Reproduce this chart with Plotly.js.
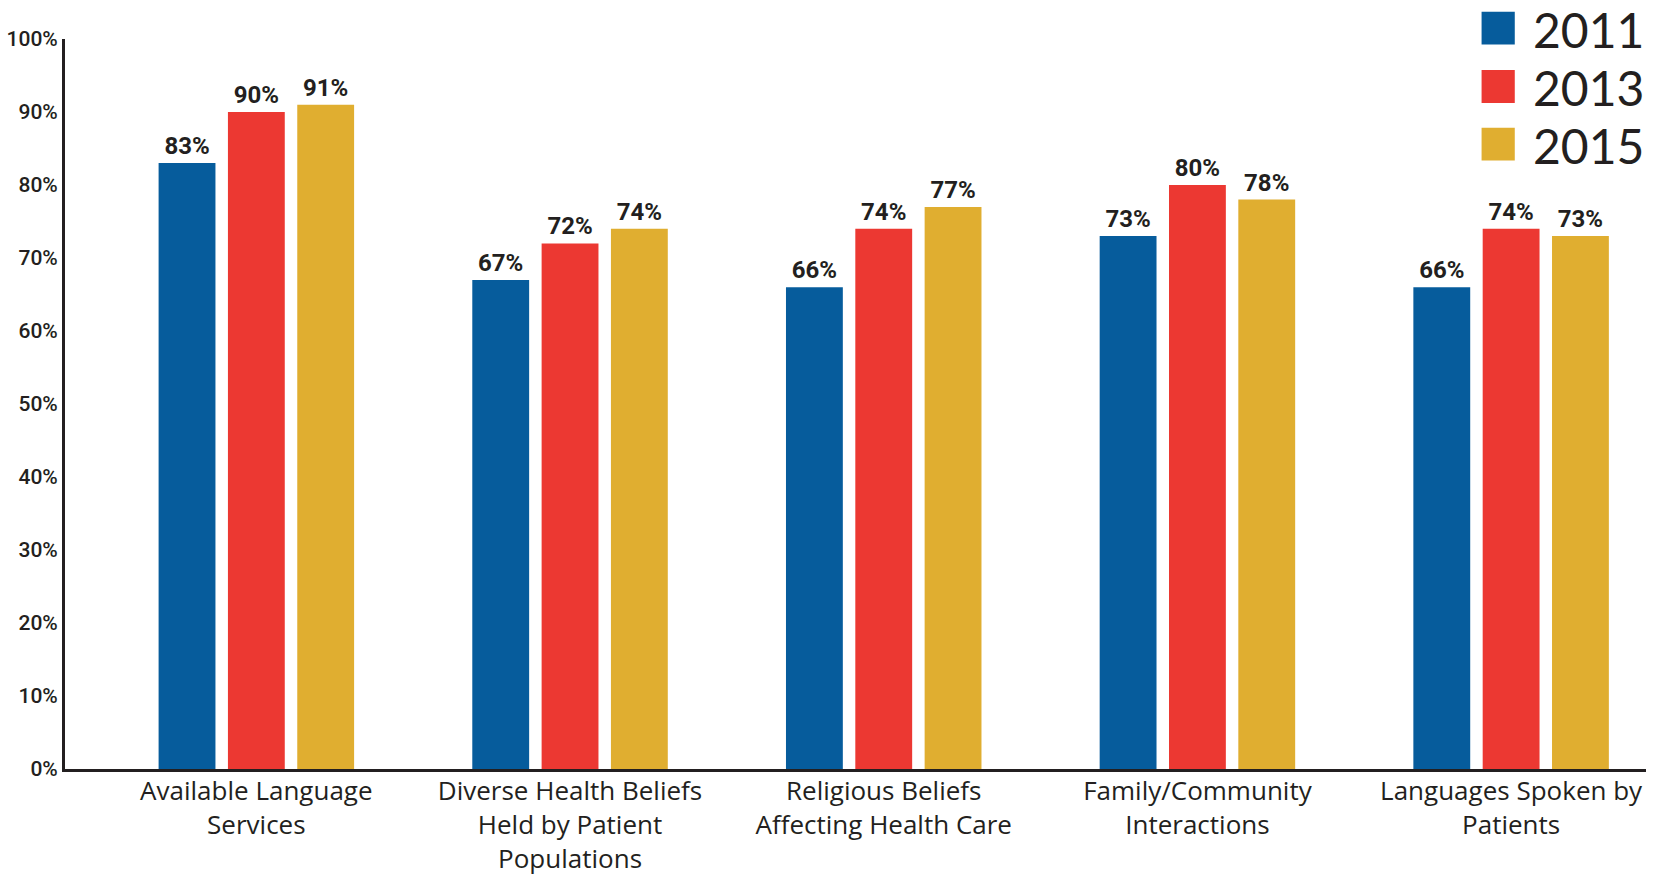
<!DOCTYPE html>
<html>
<head>
<meta charset="utf-8">
<script src="https://cdn.plot.ly/plotly-3.0.1.min.js"></script>
<style>
  html, body { margin: 0; padding: 0; background: #ffffff; }
  #chart { width: 1671px; height: 880px; }
</style>
</head>
<body>
<div id="chart"></div>
<script>
// ---- data ----
const categories = [
  "Available Language Services",
  "Diverse Health Beliefs Held by Patient Populations",
  "Religious Beliefs Affecting Health Care",
  "Family/Community Interactions",
  "Languages Spoken by Patients"
];
const categoryLabels = [
  "Available Language<br>Services",
  "Diverse Health Beliefs<br>Held by Patient<br>Populations",
  "Religious Beliefs<br>Affecting Health Care",
  "Family/Community<br>Interactions",
  "Languages Spoken by<br>Patients"
];
const seriesNames = ["2011", "2013", "2015"];
const values2011 = [83, 67, 66, 73, 66];
const values2013 = [90, 72, 74, 80, 74];
const values2015 = [91, 74, 77, 78, 73];
const seriesColors = ["#065C9C", "#EC3832", "#E0AE30"];

// ---- chart ----
const seriesValues = [values2011, values2013, values2015];
const catIdx = categories.map((_, i) => i);
const narrow = "Roboto, Liberation Sans, sans-serif";
const textColor = "#231F20";

const traces = seriesValues.map((vals, k) => ({
  type: "bar",
  name: seriesNames[k],
  x: catIdx,
  y: vals,
  marker: { color: seriesColors[k], line: { width: 0 } },
  text: vals.map(v => v + "%"),
  textposition: "outside",
  textfont: { family: narrow, size: 24, color: textColor, weight: "bold" },
  constraintext: "none",
  cliponaxis: false,
  hoverinfo: "x+y",
  showlegend: false
}));

// manual legend (large squares + labels)
const legendRowsY = [1.015, 0.935, 0.856];
const shapes = [];
const annotations = [];
seriesNames.forEach((name, k) => {
  const cy = legendRowsY[k];
  shapes.push({
    type: "rect", xref: "paper", yref: "paper",
    x0: 0.896, x1: 0.917, y0: cy - 0.0225, y1: cy + 0.0225,
    fillcolor: seriesColors[k], line: { width: 0 }
  });
  annotations.push({
    xref: "paper", yref: "paper", x: 0.927, y: cy - 0.002,
    xanchor: "left", yanchor: "middle", showarrow: false,
    text: name,
    font: { family: "Lato, Noto Sans, sans-serif", size: 48, color: textColor }
  });
});

const layout = {
  width: 1671, height: 880,
  margin: { l: 65, r: 25, t: 39, b: 111 },
  paper_bgcolor: "#ffffff",
  plot_bgcolor: "#ffffff",
  barmode: "group",
  bargap: 0.337,
  bargroupgap: 0.18,
  showlegend: false,
  xaxis: {
    range: [-0.61, 4.43],
    tickvals: catIdx,
    ticktext: categoryLabels,
    tickfont: { family: "Open Sans, Lato, sans-serif", size: 26, color: textColor },
    showgrid: false, zeroline: false,
    showline: true, linecolor: textColor, linewidth: 3,
    ticks: "", ticklabelstandoff: -3,
    fixedrange: true
  },
  yaxis: {
    range: [0, 100],
    dtick: 10, tick0: 0,
    ticksuffix: "%",
    tickfont: { family: narrow, size: 21, color: textColor, weight: 500 },
    showgrid: false, zeroline: false,
    showline: true, linecolor: textColor, linewidth: 3,
    ticks: "", ticklabelstandoff: 0,
    fixedrange: true
  },
  shapes: shapes,
  annotations: annotations
};

Plotly.newPlot("chart", traces, layout, { displayModeBar: false, staticPlot: true });
</script>
</body>
</html>
